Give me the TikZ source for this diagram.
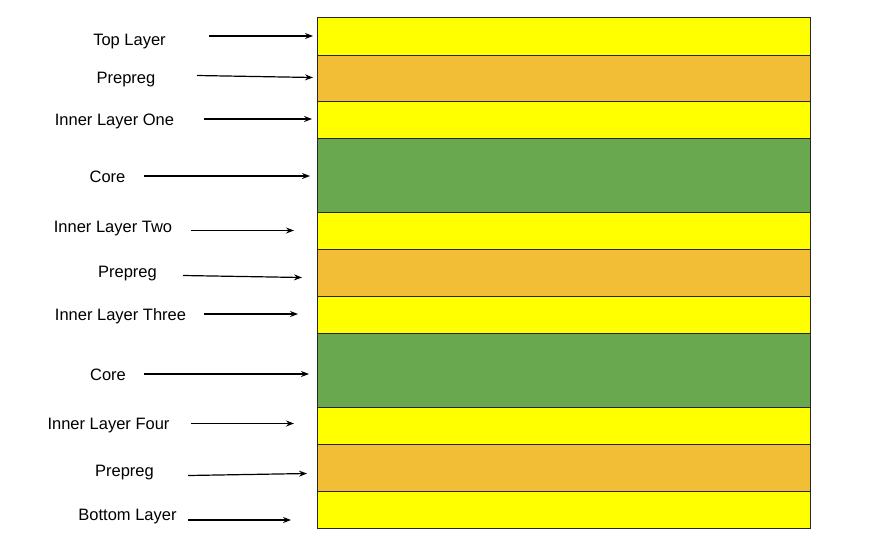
\documentclass[tikz,border=0pt]{standalone}
\usepackage{fontspec}
\setmainfont{Liberation Sans}
\usetikzlibrary{arrows.meta}
\definecolor{cuyellow}{HTML}{FFFF00}
\definecolor{preorange}{HTML}{F1BE35}
\definecolor{coregreen}{HTML}{6AA84F}
\begin{document}
\begin{tikzpicture}[x=1pt,y=-1pt,
  layerbox/.style={draw=black!85, line width=1.2pt, inner sep=0pt, minimum width=493pt, anchor=north west},
  lbl/.style={font=\fontsize{16.5}{20}\selectfont, anchor=base, inner sep=0pt},
  pointer/.style={line width=1.2pt, -{Stealth[length=8pt,width=6pt]}}]
\useasboundingbox (0,0) rectangle (890,552);
% layers
\node[layerbox, fill=cuyellow,   minimum height=38pt] (l1)  at (317,17)  {};
\node[layerbox, fill=preorange,  minimum height=46pt] (l2)  at (317,55)  {};
\node[layerbox, fill=cuyellow,   minimum height=37pt] (l3)  at (317,101) {};
\node[layerbox, fill=coregreen,  minimum height=74pt] (l4)  at (317,138) {};
\node[layerbox, fill=cuyellow,   minimum height=37pt] (l5)  at (317,212) {};
\node[layerbox, fill=preorange,  minimum height=47pt] (l6)  at (317,249) {};
\node[layerbox, fill=cuyellow,   minimum height=37pt] (l7)  at (317,296) {};
\node[layerbox, fill=coregreen,  minimum height=74pt] (l8)  at (317,333) {};
\node[layerbox, fill=cuyellow,   minimum height=37pt] (l9)  at (317,407) {};
\node[layerbox, fill=preorange,  minimum height=47pt] (l10) at (317,444) {};
\node[layerbox, fill=cuyellow,   minimum height=37pt] (l11) at (317,491) {};
% labels
\node[lbl] (t1)  at (129.5,45)  {Top Layer};
\node[lbl] (t2)  at (126,83)    {Prepreg};
\node[lbl] (t3)  at (114.5,125) {Inner Layer One};
\node[lbl] (t4)  at (107.5,182) {Core};
\node[lbl] (t5)  at (113,232)   {Inner Layer Two};
\node[lbl] (t6)  at (127.5,277) {Prepreg};
\node[lbl] (t7)  at (120.5,320) {Inner Layer Three};
\node[lbl] (t8)  at (108,380)   {Core};
\node[lbl] (t9)  at (108.5,429) {Inner Layer Four};
\node[lbl] (t10) at (124.5,476) {Prepreg};
\node[lbl] (t11) at (127.5,520) {Bottom Layer};
% arrow endpoints
\coordinate (s1) at (209,36);   \coordinate (e1) at (313,36);
\coordinate (s2) at (197,75.5); \coordinate (e2) at (313,77.5);
\coordinate (s3) at (204,119);  \coordinate (e3) at (312,119);
\coordinate (s4) at (144,176);  \coordinate (e4) at (310,176);
\coordinate (s5) at (191,230.5);\coordinate (e5) at (294,230.5);
\coordinate (s6) at (183,275.5);\coordinate (e6) at (302,277.5);
\coordinate (s7) at (204,314);  \coordinate (e7) at (298,314);
\coordinate (s8) at (144,374);  \coordinate (e8) at (309,374);
\coordinate (s9) at (191,423.5);\coordinate (e9) at (294,423.5);
\coordinate (s10) at (188,475.5);\coordinate (e10) at (307,473.5);
\coordinate (s11) at (188,520); \coordinate (e11) at (291,520);
\foreach \i in {1,...,11} {\draw[pointer] (s\i) -- (e\i);}
\end{tikzpicture}
\end{document}
